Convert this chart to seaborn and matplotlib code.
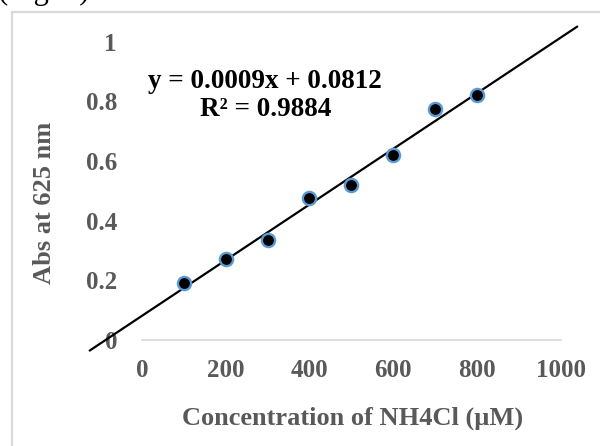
import numpy as np
import pandas as pd
import matplotlib
matplotlib.use("Agg")
import matplotlib.pyplot as plt
from matplotlib.lines import Line2D
import seaborn as sns

# Standard curve: NH4Cl concentration (µM) vs absorbance at 625 nm
concentration = [100, 200, 300, 400, 500, 600, 700, 800]
absorbance = [0.190, 0.270, 0.336, 0.476, 0.518, 0.619, 0.776, 0.820]
x_ticks = [0, 200, 400, 600, 800, 1000]
y_ticks = [0, 0.2, 0.4, 0.6, 0.8, 1]
y_tick_labels = ["0", "0.2", "0.4", "0.6", "0.8", "1"]
equation_line = "y = 0.0009x + 0.0812"
r2_line = "R² = 0.9884"

sns.set_style("white")
plt.rcParams["font.family"] = ["Liberation Serif", "DejaVu Serif"]
plt.rcParams["font.weight"] = "bold"

df = pd.DataFrame({"conc": concentration, "abs": absorbance})

fig = plt.figure(figsize=(6.0, 4.46), dpi=100)
ax = fig.add_axes([142 / 600, 106 / 446, 418.5 / 600, 298.3 / 446])

# Linear least-squares trendline, extended backward and forward
slope, intercept = np.polyfit(df["conc"], df["abs"], 1)
trend_x = np.array([-125.0, 1040.0])
trend = pd.DataFrame({"conc": trend_x, "abs": slope * trend_x + intercept})
sns.lineplot(data=trend, x="conc", y="abs", ax=ax, color="black",
             linewidth=1.6, clip_on=False, zorder=2)

sns.scatterplot(data=df, x="conc", y="abs", ax=ax, color="black",
                edgecolor="#5B9BD5", linewidth=1.7, s=90, zorder=3,
                clip_on=False)

ax.set_xlim(0, 1000)
ax.set_ylim(0, 1)
ax.set_xticks(x_ticks)
ax.set_xticklabels([str(t) for t in x_ticks])
ax.set_yticks(y_ticks)
ax.set_yticklabels(y_tick_labels)
ax.tick_params(axis="both", length=0, labelsize=18, labelcolor="#595959")
ax.tick_params(axis="y", pad=18)
ax.tick_params(axis="x", pad=14)
for lab in ax.get_xticklabels() + ax.get_yticklabels():
    lab.set_fontweight("bold")

for side in ["left", "right", "top"]:
    ax.spines[side].set_visible(False)
ax.spines["bottom"].set_color("#d9d9d9")
ax.spines["bottom"].set_linewidth(1.2)
ax.grid(False)

ax.set_xlabel("Concentration of NH4Cl (µM)", fontsize=19, fontweight="bold",
              color="#595959")
ax.set_ylabel("Abs at 625 nm", fontsize=19, fontweight="bold",
              color="#595959")
ax.xaxis.set_label_coords(0.503, -0.261)
ax.yaxis.set_label_coords(-0.232, 0.459)
ax.xaxis.label.set_va("center")
ax.yaxis.label.set_va("center")

# Trendline equation and coefficient of determination
ax.text((264.5 - 142) / 418.5, (340 - 82) / 298.3, equation_line,
        transform=ax.transAxes, ha="center", va="center", fontsize=19.5,
        fontweight="bold", color="black")
ax.text((266 - 142) / 418.5, (340 - 110) / 298.3, r2_line,
        transform=ax.transAxes, ha="center", va="center", fontsize=19.5,
        fontweight="bold", color="black")

# Chart frame and the caption line above it
fig.add_artist(Line2D([12 / 600, 12 / 600], [0, 1 - 12 / 446],
                      transform=fig.transFigure, color="#d9d9d9", lw=1.6))
fig.add_artist(Line2D([12 / 600, 1], [1 - 12 / 446, 1 - 12 / 446],
                      transform=fig.transFigure, color="#d9d9d9", lw=1.6))
fig.text(-2 / 600, 1 + 1 / 446, "(Fig. 1).", fontsize=22, fontweight="normal",
         color="black", ha="left", va="baseline")

fig.savefig("out.png", dpi=100)
